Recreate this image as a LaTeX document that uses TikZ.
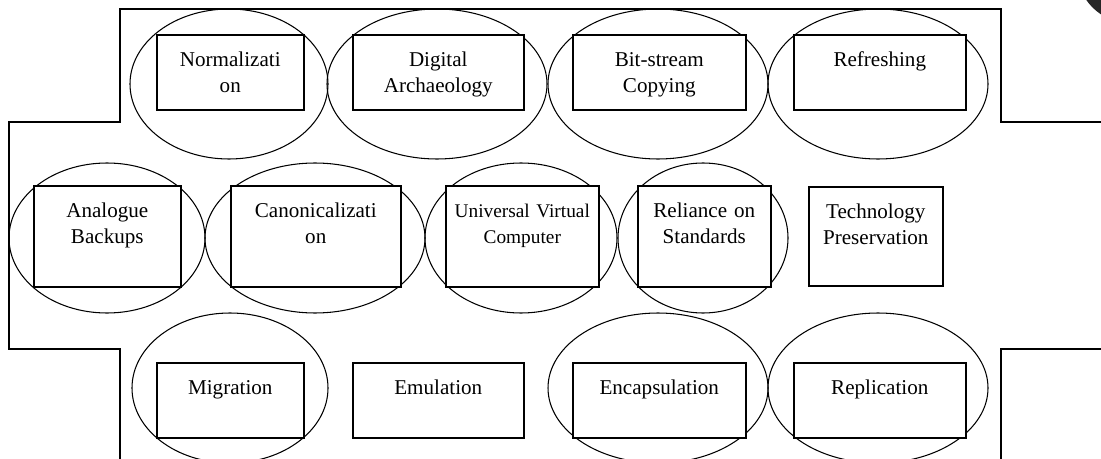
\documentclass[tikz,border=0pt]{standalone}
\usepackage{fontspec}
\setmainfont{Liberation Serif}
\usetikzlibrary{positioning}

\begin{document}
\begin{tikzpicture}
	[x=0.02cm,y=-0.02cm,
	box node/.style={shape=rectangle,draw,line width=0.9pt,fill=white,inner sep=0pt,anchor=north west,align=center,font=\fontsize{12}{14.8}\selectfont,text height=0.64cm},
	low node/.style={box node,text depth=0.86cm},
	high node/.style={box node,text depth=1.38cm},
	ring/.style={draw,line width=0.6pt}
	]
	\useasboundingbox (0,0) rectangle (1101,459);
	\clip (0,0) rectangle (1101,459);

	% outline
	\draw[line width=0.9pt] (120,459) -- (120,349) -- (9,349) -- (9,122) -- (120,122) -- (120,9) -- (1001,9) -- (1001,122) -- (1101,122);
	\draw[line width=0.9pt] (1101,349) -- (1001,349) -- (1001,459);
	\fill[black!85] (1130,-30) circle [radius=53];

	% ellipses
	\foreach \cx/\cy/\rx in {229/84/99, 437/84/110, 658/84/110, 878/84/110,
		107/238/98, 315/238/110, 521/238/96, 703/238/85,
		230/388/98, 658/388/110, 878/388/110}
		\draw[ring] (\cx,\cy) ellipse [x radius=\rx, y radius=75];

	\node [low node,text width=2.94cm] (1) at (156,34) {Normalizati\\on};
	\node [low node,text width=3.42cm] (2) at (352,34) {Digital\\Archaeology};
	\node [low node,text width=3.46cm] (3) at (572,34) {Bit-stream\\Copying};
	\node [low node,text width=3.44cm] (4) at (793,34) {Refreshing};

	\node [high node,text width=2.94cm] (5) at (33,185) {Analogue\\Backups};
	\node [high node,text width=3.40cm] (6) at (230,185) {Canonicalizati\\on};
	\node [high node,text width=3.06cm,font=\fontsize{11}{14.8}\selectfont] (7) at (445,185) {Universal Virtual\\Computer};
	\node [high node,text width=2.66cm] (8) at (637,185) {Reliance on\\Standards};
	\node [high node,text width=2.68cm,text depth=1.34cm] (9) at (808,186) {Technology\\Preservation};

	\node [low node,text width=2.94cm] (10) at (156,362) {Migration};
	\node [low node,text width=3.42cm] (11) at (352,362) {Emulation};
	\node [low node,text width=3.46cm] (12) at (572,362) {Encapsulation};
	\node [low node,text width=3.44cm] (13) at (793,362) {Replication};

\end{tikzpicture}
\end{document}
